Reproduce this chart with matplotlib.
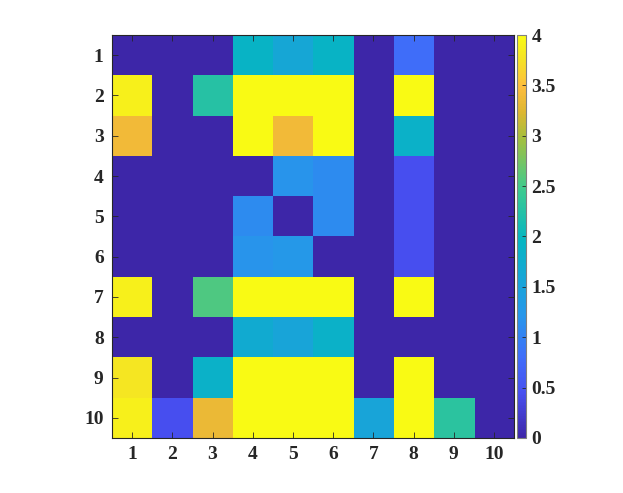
import matplotlib
matplotlib.use("Agg")
import matplotlib.pyplot as plt
from matplotlib.colors import LinearSegmentedColormap
import numpy as np

# cell values, row 1 at top
values = [
    [0, 0, 0, 1.9, 1.6, 1.9, 0, 0.8, 0, 0],
    [3.9, 0, 2.25, 4, 4, 4, 0, 4, 0, 0],
    [3.4, 0, 0, 4, 3.4, 4, 0, 1.85, 0, 0],
    [0, 0, 0, 0, 1.2, 1.1, 0, 0.45, 0, 0],
    [0, 0, 0, 1.1, 0, 1.1, 0, 0.45, 0, 0],
    [0, 0, 0, 1.2, 1.25, 0, 0, 0.45, 0, 0],
    [3.9, 0, 2.55, 4, 4, 4, 0, 4, 0, 0],
    [0, 0, 0, 1.7, 1.55, 1.85, 0, 0, 0, 0],
    [3.8, 0, 1.85, 4, 4, 4, 0, 4, 0, 0],
    [3.9, 0.45, 3.35, 4, 4, 4, 1.55, 4, 2.3, 0],
]
row_labels = [str(i) for i in range(1, 11)]
col_labels = [str(i) for i in range(1, 11)]
cbar_ticks = [0, 0.5, 1, 1.5, 2, 2.5, 3, 3.5, 4]
cbar_labels = ['0', '0.5', '1', '1.5', '2', '2.5', '3', '3.5', '4']

# parula-like colormap
parula_pos = [0, 0.11, 0.2, 0.302, 0.492, 0.619, 0.746, 0.81, 0.873, 0.937, 1.0]
parula_rgb = [
    (0.2422, 0.1504, 0.6603),
    (0.2800, 0.3100, 0.9400),
    (0.2500, 0.4300, 0.9800),
    (0.1540, 0.5902, 0.9218),
    (0.0232, 0.7136, 0.7603),
    (0.2440, 0.7946, 0.5601),
    (0.6473, 0.7480, 0.2403),
    (0.8651, 0.7164, 0.1927),
    (0.9942, 0.7406, 0.2394),
    (0.9598, 0.8794, 0.1539),
    (0.9769, 0.9839, 0.0805),
]
parula = LinearSegmentedColormap.from_list("parula", list(zip(parula_pos, parula_rgb)))

plt.rcParams['font.family'] = 'Liberation Serif'
plt.rcParams['font.weight'] = 'bold'
axcol = (0.15, 0.15, 0.15)

fig = plt.figure(figsize=(6.23, 4.93), dpi=100)
ax = fig.add_axes([0.1798, 0.1116, 0.6453, 0.8174])
data = np.array(values)
im = ax.imshow(data, cmap=parula, vmin=0, vmax=4, aspect='auto',
               extent=(0.5, 10.5, 10.5, 0.5), interpolation='nearest')
ax.set_xticks(range(1, 11))
ax.set_xticklabels(col_labels)
ax.set_yticks(range(1, 11))
ax.set_yticklabels(row_labels)
ax.tick_params(direction='in', top=True, right=True, length=4, width=0.6,
               color=axcol, labelcolor=axcol, labelsize=14, pad=6)
for s in ax.spines.values():
    s.set_color(axcol)
    s.set_linewidth(0.8)

cax = fig.add_axes([0.8299, 0.1116, 0.0144, 0.8174])
cb = fig.colorbar(im, cax=cax, ticks=cbar_ticks)
cb.ax.set_yticklabels(cbar_labels)
cb.ax.tick_params(direction='in', length=3, width=0.6, color=axcol,
                  labelcolor=axcol, labelsize=14, pad=4)
cb.outline.set_edgecolor((0.5, 0.5, 0.5))
cb.outline.set_linewidth(0.8)

fig.savefig('out.png', dpi=100)
